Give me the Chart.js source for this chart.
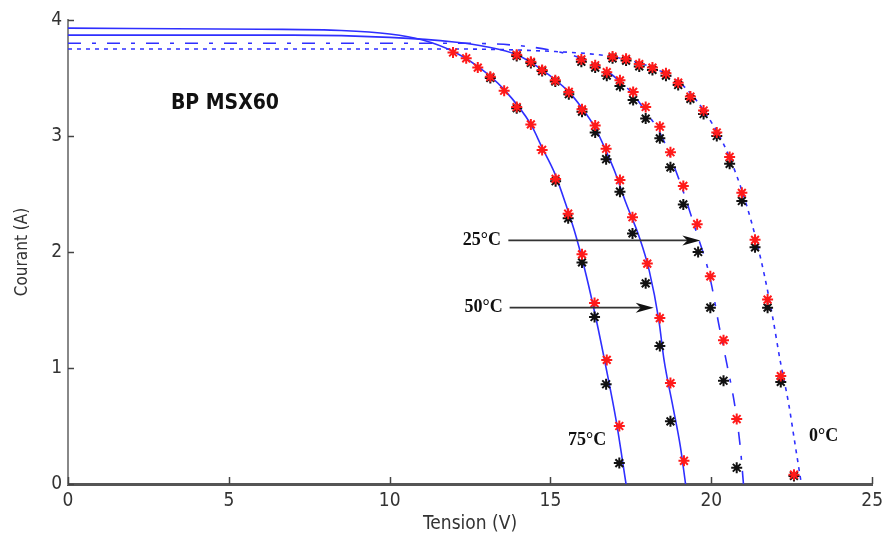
<!DOCTYPE html>
<html>
<head>
<meta charset="utf-8">
<script src="https://cdn.jsdelivr.net/npm/chart.js@4.4.1/dist/chart.umd.min.js"></script>
<style>
  html, body { margin: 0; padding: 0; background: #fff; }
  #wrap { position: relative; width: 889px; height: 535px; }
</style>
</head>
<body>
<div id="wrap"><canvas id="ivChart" width="889" height="535"></canvas></div>
<script>
// I-V curves of the BP MSX60 module, [tension V, courant A]
const curve75 = [[0,3.93],[6,3.92],[8.5,3.91],[10,3.88],[11,3.83],[11.97,3.73],[12.74,3.60],[13.56,3.40],[14.39,3.10],[14.74,2.90],[15.13,2.68],[15.49,2.40],[15.80,2.13],[16.11,1.80],[16.42,1.42],[16.73,1.0],[17.04,0.55],[17.35,0]];
const curve50 = [[0,3.87],[7,3.87],[10,3.85],[12,3.81],[13,3.77],[13.95,3.70],[14.74,3.57],[15.57,3.38],[15.98,3.24],[16.39,3.07],[16.73,2.87],[16.99,2.70],[17.35,2.42],[17.76,2.13],[18.07,1.84],[18.37,1.41],[18.53,1.07],[18.79,0.69],[19.04,0.32],[19.2,0]];
const curve25 = [[0,3.80],[12,3.80],[14,3.78],[15,3.74],[15.96,3.67],[16.75,3.56],[17.16,3.47],[17.57,3.36],[17.96,3.21],[18.40,3.03],[18.73,2.82],[19.13,2.52],[19.56,2.15],[19.87,1.88],[20.02,1.70],[20.23,1.38],[20.48,1.04],[20.74,0.66],[20.90,0.32],[21.0,0]];
const curve0 = [[0,3.75],[12,3.75],[15,3.73],[16.5,3.70],[17.35,3.66],[18.17,3.59],[18.97,3.47],[19.5,3.32],[20.0,3.12],[20.4,2.92],[20.8,2.65],[21.1,2.40],[21.4,2.10],[21.65,1.80],[21.9,1.45],[22.15,1.05],[22.4,0.70],[22.6,0.35],[22.8,0]];

// measured points (red and black stars)
const red75 = [[11.97,3.72],[12.38,3.67],[12.74,3.59],[13.13,3.51],[13.56,3.39],[13.95,3.25],[14.39,3.10],[14.74,2.88],[15.16,2.63],[15.55,2.33],[15.98,1.98],[16.37,1.56],[16.75,1.07],[17.14,0.50]];
const black75 = [[13.13,3.50],[13.95,3.24],[15.16,2.61],[15.55,2.29],[15.98,1.91],[16.37,1.44],[16.73,0.86],[17.14,0.18]];
const red50 = [[13.95,3.70],[14.39,3.64],[14.74,3.57],[15.15,3.48],[15.57,3.38],[15.98,3.23],[16.39,3.09],[16.73,2.89],[17.16,2.62],[17.55,2.30],[18.01,1.90],[18.40,1.43],[18.73,0.87],[19.15,0.20]];
const black50 = [[13.95,3.69],[14.39,3.63],[14.74,3.56],[15.15,3.47],[15.57,3.36],[15.98,3.21],[16.39,3.03],[16.73,2.80],[17.16,2.52],[17.55,2.16],[17.96,1.73],[18.40,1.19],[18.73,0.54]];
const red25 = [[15.96,3.66],[16.39,3.61],[16.75,3.55],[17.16,3.48],[17.57,3.38],[17.96,3.25],[18.40,3.08],[18.73,2.86],[19.13,2.57],[19.56,2.24],[19.97,1.79],[20.38,1.24],[20.79,0.56]];
const black25 = [[15.96,3.64],[16.39,3.59],[16.75,3.52],[17.16,3.43],[17.57,3.31],[17.96,3.15],[18.40,2.98],[18.73,2.73],[19.13,2.41],[19.59,2.00],[19.97,1.52],[20.38,0.89],[20.79,0.14]];
const red0 = [[16.93,3.685],[17.35,3.665],[17.76,3.62],[18.17,3.59],[18.59,3.54],[18.97,3.46],[19.35,3.34],[19.76,3.22],[20.17,3.03],[20.57,2.82],[20.95,2.51],[21.36,2.105],[21.75,1.59],[22.16,0.93],[22.57,0.08]];
const black0 = [[16.93,3.67],[17.35,3.65],[17.76,3.60],[18.17,3.57],[18.59,3.52],[18.97,3.44],[19.35,3.32],[19.76,3.19],[20.17,3.00],[20.57,2.76],[20.95,2.44],[21.36,2.04],[21.75,1.52],[22.16,0.88],[22.57,0.07]];

const xTicks = [0, 5, 10, 15, 20, 25];
const yTicks = [0, 1, 2, 3, 4];

function toXY(arr) {
    return arr.map(p => ({ x: p[0], y: p[1] }));
}

const BLUE = '#2f2fff';
const narrow = "'Liberation Sans Narrow', 'DejaVu Sans Condensed', 'Arial Narrow', sans-serif";

function lineSet(data, dash) {
    return {
        data: toXY(data),
        showLine: true,
        borderColor: BLUE,
        borderWidth: 1.6,
        borderDash: dash,
        pointRadius: 0,
        cubicInterpolationMode: 'monotone',
        fill: false
    };
}

function markSet(data, color) {
    return {
        data: toXY(data),
        showLine: false,
        pointStyle: 'star',
        pointRadius: 5.5,
        pointBorderWidth: 2,
        pointBorderColor: color,
        pointBackgroundColor: color
    };
}

// inward ticks, arrows and labels
const extras = {
    id: 'extras',
    afterDatasetsDraw(chart) {
        const c = chart.ctx;
        const xs = chart.scales.x, ys = chart.scales.y;
        const area = chart.chartArea;
        c.save();
        c.strokeStyle = '#444';
        c.lineWidth = 1.5;
        xTicks.forEach(v => {
            const px = Math.round(xs.getPixelForValue(v)) + 0.5;
            c.beginPath(); c.moveTo(px, area.bottom); c.lineTo(px, area.bottom - 7); c.stroke();
        });
        yTicks.forEach(v => {
            const py = Math.round(ys.getPixelForValue(v)) + 0.5;
            c.beginPath(); c.moveTo(area.left, py); c.lineTo(area.left + 6, py); c.stroke();
        });

        function arrow(v0, v1, i) {
            const x0 = xs.getPixelForValue(v0), x1 = xs.getPixelForValue(v1), y = ys.getPixelForValue(i);
            c.strokeStyle = '#333';
            c.fillStyle = '#111';
            c.lineWidth = 1.8;
            c.beginPath(); c.moveTo(x0, y); c.lineTo(x1 - 10, y); c.stroke();
            c.beginPath();
            c.moveTo(x1, y);
            c.lineTo(x1 - 18, y - 5);
            c.lineTo(x1 - 13, y);
            c.lineTo(x1 - 18, y + 5);
            c.closePath();
            c.fill();
        }
        arrow(13.69, 19.66, 2.10);
        arrow(13.73, 18.21, 1.52);

        c.fillStyle = '#111';
        c.textAlign = 'center';
        c.textBaseline = 'middle';
        c.font = "bold 18px 'Liberation Serif', 'Times New Roman', serif";
        c.fillText('25°C', xs.getPixelForValue(12.87), ys.getPixelForValue(2.10));
        c.fillText('50°C', xs.getPixelForValue(12.92), ys.getPixelForValue(1.52));
        c.fillText('75°C', xs.getPixelForValue(16.14), ys.getPixelForValue(0.375));
        c.fillText('0°C', xs.getPixelForValue(23.49), ys.getPixelForValue(0.41));

        c.font = "bold 21px 'DejaVu Sans Condensed', " + narrow;
        c.fillText('BP MSX60', xs.getPixelForValue(4.88), ys.getPixelForValue(3.28));
        c.restore();
    }
};

new Chart(document.getElementById('ivChart').getContext('2d'), {
    type: 'scatter',
    data: {
        datasets: [
            markSet(red75, '#ff1a1a'), markSet(red50, '#ff1a1a'), markSet(red25, '#ff1a1a'), markSet(red0, '#ff1a1a'),
            markSet(black75, '#111'), markSet(black50, '#111'), markSet(black25, '#111'), markSet(black0, '#111'),
            lineSet(curve75, []),
            lineSet(curve50, []),
            lineSet(curve25, [13, 11, 4, 11]),
            lineSet(curve0, [4, 5])
        ]
    },
    options: {
        responsive: false,
        animation: false,
        layout: { padding: { top: 20, right: 11, left: 0, bottom: 0 } },
        plugins: { legend: { display: false }, tooltip: { enabled: false } },
        scales: {
            x: {
                type: 'linear',
                min: 0, max: 25,
                afterFit(scale) { scale.height = 51; },
                afterBuildTicks(scale) { scale.ticks = xTicks.map(v => ({ value: v })); },
                grid: { drawOnChartArea: false, drawTicks: false },
                border: { color: '#555', width: 3 },
                ticks: { color: '#333', padding: 6, font: { family: narrow, size: 19 } },
                title: { display: true, text: 'Tension (V)', color: '#333', padding: { top: 0, bottom: 0 }, font: { family: narrow, size: 19 } }
            },
            y: {
                type: 'linear',
                min: 0, max: 4,
                afterFit(scale) { scale.width = 68; },
                afterBuildTicks(scale) { scale.ticks = yTicks.map(v => ({ value: v })); },
                grid: { drawOnChartArea: false, drawTicks: false },
                border: { color: '#888', width: 2 },
                ticks: { color: '#333', padding: 6, font: { family: narrow, size: 19 } },
                title: { display: true, text: 'Courant (A)', color: '#333', padding: { top: 12, bottom: 0 }, font: { family: narrow, size: 17 } }
            }
        }
    },
    plugins: [extras]
});
</script>
</body>
</html>
